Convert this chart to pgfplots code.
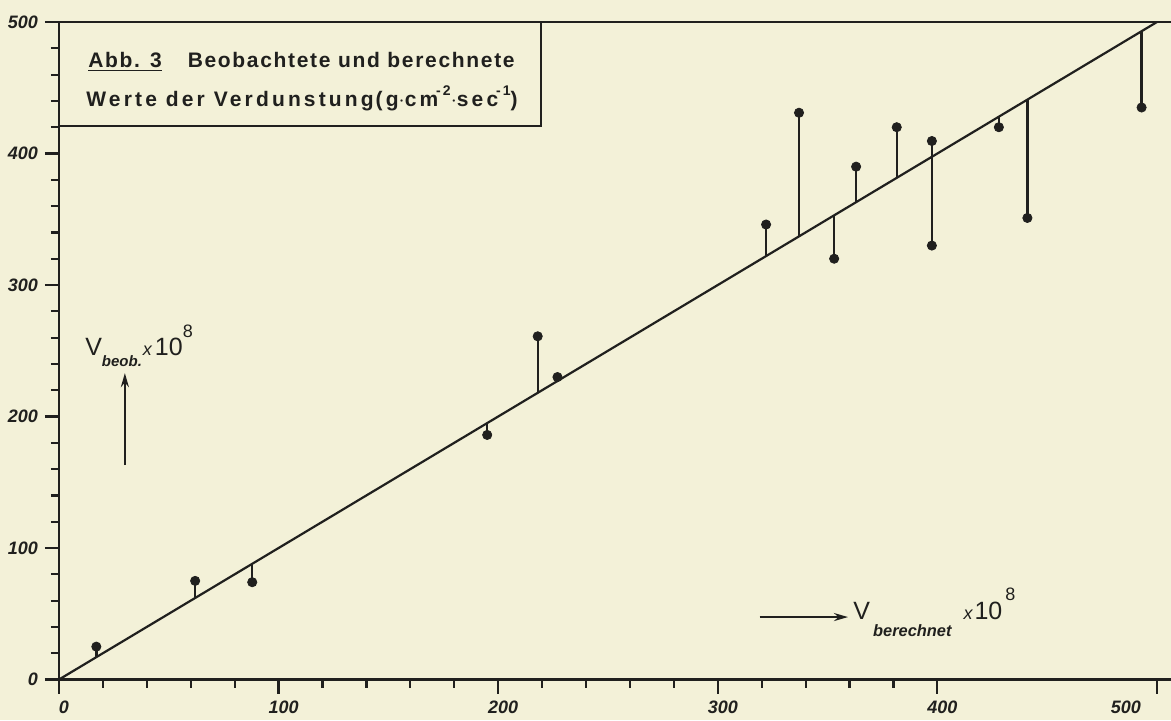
\documentclass[border=0pt]{standalone}
\usepackage{fontspec}
\setmainfont{Liberation Sans}
\newfontfamily\titlefontA[LetterSpace=8]{Liberation Sans}
\newfontfamily\titlefontB[LetterSpace=15]{Liberation Sans}
\usepackage{pgfplots}
\pgfplotsset{compat=1.18}
\usetikzlibrary{arrows.meta}
\definecolor{paper}{RGB}{243,241,216}
\definecolor{ink}{RGB}{32,32,30}
\begin{document}
\begin{tikzpicture}[x=1pt,y=1pt]
\fill[paper] (-29.5,-20.25) rectangle (556,339.75);
\begin{axis}[
  at={(0,0)}, anchor=south west,
  scale only axis, width=556pt, height=328.75pt,
  xmin=0, xmax=506.4, ymin=0, ymax=500,
  axis x line=bottom, axis y line=left,
  axis line style={-, line width=1.4pt, draw=ink},
  xtick={0,100,...,400}, ytick={0,100,...,500},
  extra x ticks={500},
  extra x tick style={xticklabel style={xshift=-18pt}},
  minor x tick num=4, minor y tick num=4,
  tick align=outside, major tick length=7pt, minor tick length=4pt,
  every tick/.style={line width=1.1pt, draw=ink},
  ticklabel style={font=\fontsize{9}{10}\selectfont\bfseries\itshape, text=ink},
  xticklabel style={xshift=2.5pt},
  /pgf/number format/assume math mode=true,
  clip=false,
]
% frame parts
\addplot[ink, line width=1.4pt] coordinates {(0,500) (506.4,500)};
\addplot[ink, line width=1.4pt] coordinates {(0,421) (219.5,421) (219.5,500)};
% calculated = observed line
\addplot[ink, line width=1.1pt] coordinates {(0,0) (500,500)};
% stems from calculated value to observed value
\addplot[ink, line width=1.2pt, unbounded coords=jump] table {
x y
17 17
17 25
nan nan
62 62
62 75
nan nan
88 88
88 74
nan nan
195 195
195 186
nan nan
218 218
218 261
nan nan
227 227
227 230
nan nan
322 322
322 346
nan nan
337 337
337 431
nan nan
353 353
353 320
nan nan
363 363
363 390
nan nan
381.5 381.5
381.5 420
nan nan
397.5 330
397.5 409.5
nan nan
428 428
428 420
nan nan
441 441
441 351
nan nan
493 493
493 435
};
% observed points
\addplot[only marks, mark=*, mark size=2.3pt, mark options={fill=ink, draw=ink}] table {
x y
17 25
62 75
88 74
195 186
218 261
227 230
322 346
337 431
353 320
363 390
381.5 420
397.5 409.5
397.5 330
428 420
441 351
493 435
};
% title box text
\node[anchor=west, inner sep=0, text=ink, font=\fontsize{10.5}{12}\titlefontA\bfseries] at (axis cs:13.2,469.6)
  {\underline{Abb.\kern5pt3}\hspace{13pt}Beobachtete und berechnete};
\node[anchor=west, inner sep=0, text=ink, font=\fontsize{10.5}{12}\titlefontB\bfseries] at (axis cs:12.3,442.2)
  {Werte der Verdunstung\kern1pt(g$\cdot$cm\kern-0.1em\raisebox{1ex}{\fontsize{7}{7}\selectfont -2}$\cdot$sec\kern-0.1em\raisebox{1ex}{\fontsize{7}{7}\selectfont -1})};
% y label
\draw[ink, line width=1.1pt, -{Stealth[length=7pt,width=4pt]}] (axis cs:30,163) -- (axis cs:30,233);
\node[anchor=west, inner sep=0, text=ink, font=\fontsize{12.5}{13}\selectfont] at (axis cs:11.8,254)
  {V\raisebox{-0.8ex}{\fontsize{7.5}{8}\selectfont\bfseries\itshape beob.}\kern0.5pt{\fontsize{9}{9}\selectfont\itshape x}\kern1.5pt 10\raisebox{1.4ex}{\fontsize{9}{9}\selectfont 8}};
% x label
\draw[ink, line width=1.1pt, -{Stealth[length=7pt,width=4pt]}] (axis cs:319,47.5) -- (axis cs:359.3,47.5);
\node[anchor=west, inner sep=0, text=ink, font=\fontsize{12.5}{13}\selectfont] at (axis cs:361.6,51)
  {V\kern1.5pt\raisebox{-1.3ex}{\fontsize{8.2}{9}\selectfont\bfseries\itshape berechnet}\hspace{6pt}{\fontsize{9}{9}\selectfont\itshape x}\kern1pt 10\kern1.5pt\raisebox{1.4ex}{\fontsize{9}{9}\selectfont 8}};
\end{axis}
\pgfresetboundingbox
\path (-29.5,-20.25) rectangle (556,339.75);
\end{tikzpicture}
\end{document}
